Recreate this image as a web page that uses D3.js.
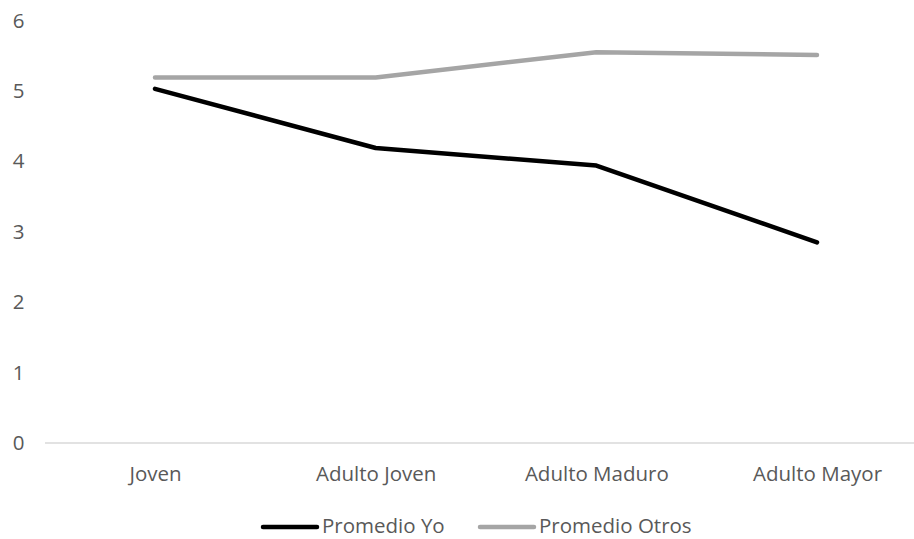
<!DOCTYPE html>
<html>
<head>
<meta charset="utf-8">
<script src="https://cdn.jsdelivr.net/npm/d3@7"></script>
<style>
  html, body { margin: 0; padding: 0; background: #fff; }
  svg { display: block; font-family: "Open Sans", "Noto Sans", sans-serif; }
</style>
</head>
<body>
<svg id="chart" width="914" height="539"></svg>
<script>
const categories = ["Joven", "Adulto Joven", "Adulto Maduro", "Adulto Mayor"];
const promedioYo = [5.03, 4.19, 3.94, 2.85];
const promedioOtros = [5.19, 5.19, 5.55, 5.51];
const yTicks = [0, 1, 2, 3, 4, 5, 6];
const seriesNames = ["Promedio Yo", "Promedio Otros"];
const seriesColors = ["#000000", "#a5a5a5"];

const svg = d3.select("#chart");
const textColor = "#595959";
const fontSize = 20.5;

const x = d3.scalePoint().domain(categories).range([155, 817]);
const y = d3.scaleLinear().domain([0, 6]).range([443, 20.5]);

// horizontal baseline
svg.append("line")
  .attr("x1", 45).attr("x2", 914)
  .attr("y1", y(0)).attr("y2", y(0))
  .attr("stroke", "#d9d9d9").attr("stroke-width", 1.3);

// y-axis labels
const yAxis = d3.axisLeft(y).tickValues(yTicks).tickFormat(d3.format("d")).tickSize(0).tickPadding(0);
const gy = svg.append("g").attr("transform", "translate(18.5,0)").call(yAxis);
gy.select(".domain").remove();
gy.selectAll("text")
  .attr("fill", textColor).attr("font-size", fontSize).attr("text-anchor", "middle")
  .attr("x", 0)
  .style("font-family", "'Open Sans', sans-serif");

// x-axis labels
const xAxis = d3.axisBottom(x).tickSize(0).tickPadding(0);
const gx = svg.append("g").attr("transform", "translate(0,481)").call(xAxis);
gx.select(".domain").remove();
gx.selectAll("text")
  .attr("y", 0).attr("dy", 0)
  .attr("fill", textColor).attr("font-size", fontSize)
  .style("font-family", "'Open Sans', sans-serif");

const line = d3.line()
  .x((d, i) => x(categories[i]))
  .y(d => y(d));

[promedioYo, promedioOtros].forEach((vals, k) => {
  svg.append("path")
    .datum(vals)
    .attr("d", line)
    .attr("fill", "none")
    .attr("stroke", seriesColors[k])
    .attr("stroke-width", 4.5)
    .attr("stroke-linejoin", "round")
    .attr("stroke-linecap", "round");
});

// legend
const legendX = [263, 480];
const lg = svg.append("g");
seriesNames.forEach((name, k) => {
  lg.append("line")
    .attr("x1", legendX[k]).attr("x2", legendX[k] + 54)
    .attr("y1", 527).attr("y2", 527)
    .attr("stroke", seriesColors[k]).attr("stroke-width", 4.5)
    .attr("stroke-linecap", "round");
  lg.append("text")
    .attr("x", legendX[k] + 59).attr("y", 533)
    .attr("fill", textColor).attr("font-size", fontSize)
    .text(name);
});
</script>
</body>
</html>
